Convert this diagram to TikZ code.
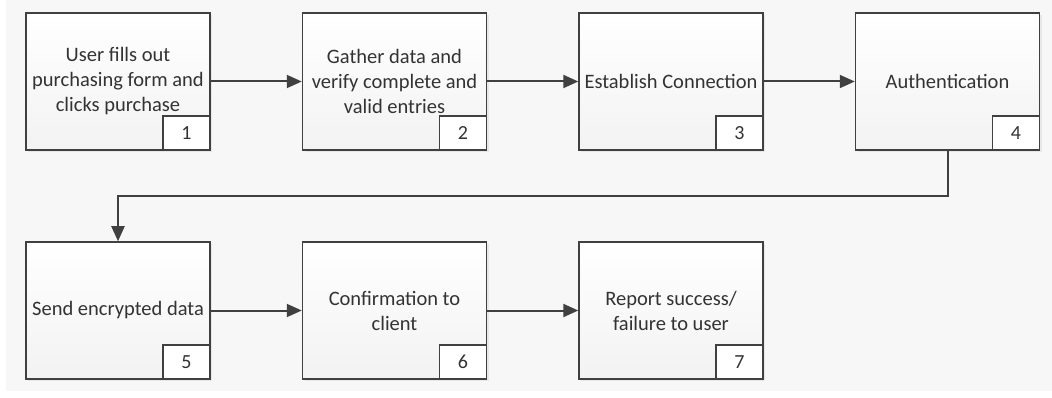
\documentclass[tikz,border=0pt]{standalone}
\usepackage{fontspec}
\setmainfont{Carlito}
\usetikzlibrary{positioning,arrows.meta,shadows}
\definecolor{linegray}{HTML}{404040}
\definecolor{bggray}{HTML}{F7F7F7}
\tikzset{
  stepbox/.style={draw=linegray, line width=1.5pt, minimum width=184pt, minimum height=137pt,
    top color=white, bottom color=black!5, align=center, text=black!80,
    font=\fontsize{20.5}{25}\selectfont,
    drop shadow={shadow xshift=2pt, shadow yshift=-2pt, fill=black!15, opacity=0.5}},
  numbox/.style={draw=linegray, line width=1.5pt, fill=white, minimum width=47pt, minimum height=34pt,
    anchor=south east, text=black!80, font=\fontsize{20}{22}\selectfont},
  flow/.style={draw=linegray, line width=2pt, -{Triangle[length=15pt,width=13pt]}}
}
\begin{document}
\begin{tikzpicture}[x=1pt, y=-1pt]
\useasboundingbox (0,0) rectangle (1052,398);
\fill[bggray] (6,0) rectangle (1052,391);
% first row
\node[stepbox] (s1) at (118,81.5) {User fills out\\purchasing form and\\clicks purchase};
\node[stepbox, right=91pt of s1] (s2) {Gather data and\\verify complete and\\valid entries};
\node[stepbox, right=91pt of s2] (s3) {Establish Connection};
\node[stepbox, right=91pt of s3] (s4) {Authentication};
% second row
\node[stepbox] (s5) at (118,310.5) {Send encrypted data};
\node[stepbox, right=91pt of s5] (s6) {Confirmation to\\client};
\node[stepbox, right=91pt of s6] (s7) {Report success/\\failure to user};
% step numbers
\foreach \i in {1,...,7} {
  \node[numbox] (n\i) at (s\i.south east) {\i};
}
% connectors
\draw[flow] (s1) -- (s2);
\draw[flow] (s2) -- (s3);
\draw[flow] (s3) -- (s4);
\coordinate (turn) at (0,196);
\draw[flow] (s4.south) |- (turn -| s4.south) -| (s5.north);
\draw[flow] (s5) -- (s6);
\draw[flow] (s6) -- (s7);
\end{tikzpicture}
\end{document}
